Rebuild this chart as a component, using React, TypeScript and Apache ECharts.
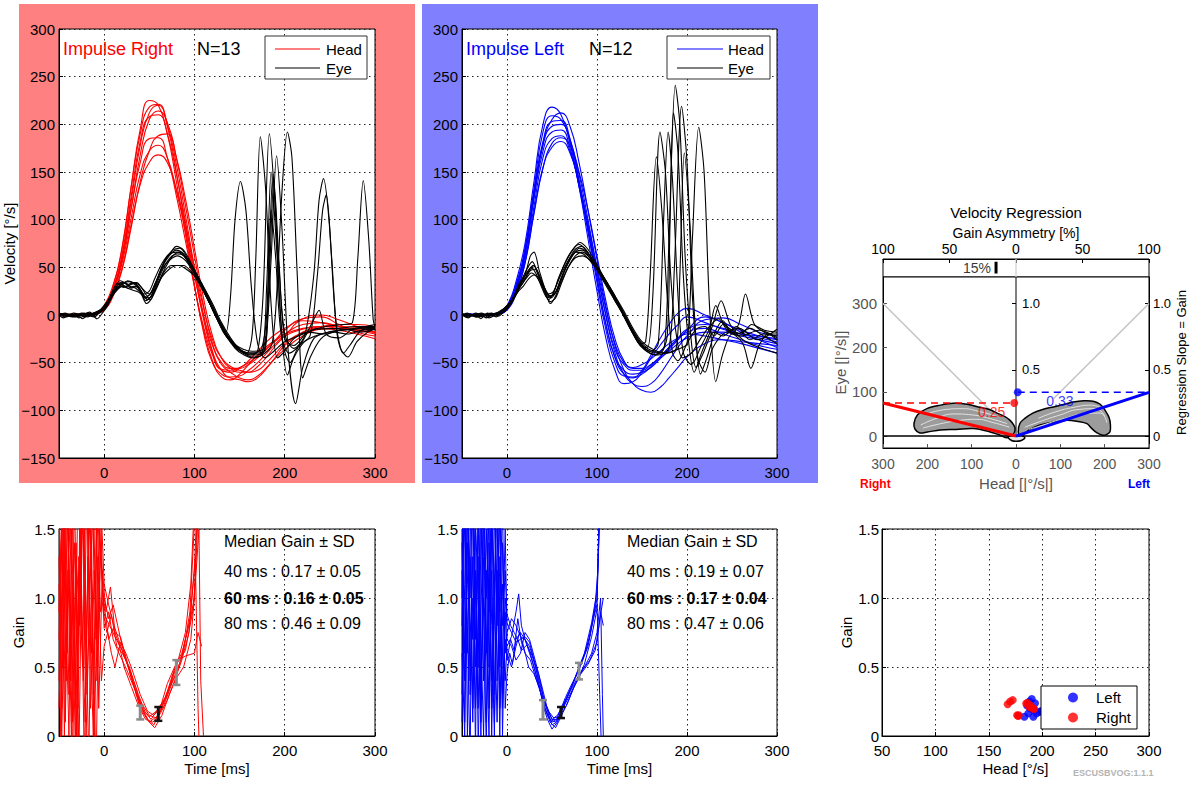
import React, { useEffect, useRef } from "react";
import * as echarts from "echarts";

const FONT = "'Liberation Sans', Arial, Helvetica, sans-serif";

// ---------- data ----------
const TIME_HEAD = [-50, -40, -30, -20, -10, 0, 10, 20, 30, 40, 50, 60, 70, 80, 90, 100, 110, 120, 130, 140, 150, 160, 170, 180, 190, 200, 220, 240, 260, 280, 300];

const HEAD_RIGHT = [
  [0, 0, 1, 0, 2, 10, 32, 70, 135, 195, 225, 220, 190, 140, 85, 30, -15, -48, -65, -68, -62, -52, -42, -33, -26, -20, -14, -12, -14, -15, -15],
  [0, 0, 0, 1, 2, 8, 28, 62, 120, 178, 212, 220, 200, 158, 105, 50, 0, -38, -58, -65, -64, -58, -50, -40, -30, -22, -15, -12, -12, -13, -14],
  [0, 1, 0, 0, 2, 7, 25, 58, 112, 168, 205, 214, 202, 165, 115, 62, 10, -30, -52, -60, -66, -68, -64, -55, -45, -36, -22, -15, -14, -16, -18],
  [0, 0, 1, 0, 2, 8, 26, 60, 112, 160, 185, 186, 165, 125, 78, 30, -12, -42, -57, -58, -55, -50, -43, -35, -27, -20, -10, -8, -12, -16, -20],
  [0, 0, 0, 1, 2, 6, 24, 55, 102, 148, 172, 178, 165, 130, 88, 42, 0, -32, -50, -56, -56, -52, -45, -36, -26, -16, -4, -2, -10, -18, -22],
  [0, 0, 0, 0, 1, 6, 22, 50, 95, 137, 160, 168, 160, 132, 94, 50, 8, -26, -45, -54, -58, -60, -58, -50, -40, -30, -18, -14, -16, -20, -25],
  [0, 0, 1, 0, 2, 9, 30, 72, 135, 190, 218, 221, 198, 150, 92, 32, -18, -50, -62, -66, -68, -70, -66, -56, -44, -32, -18, -12, -10, -10, -12],
  [0, 0, 0, 0, 1, 5, 20, 48, 92, 140, 172, 188, 190, 165, 122, 70, 18, -22, -45, -56, -60, -60, -54, -44, -32, -22, -4, 0, -5, -12, -18],
  [0, 0, 0, 1, 2, 7, 26, 64, 125, 182, 208, 210, 190, 148, 98, 44, -4, -40, -58, -60, -56, -48, -38, -28, -20, -14, -6, -8, -12, -16, -18],
];

const HEAD_LEFT = [
  [0, 1, 0, -1, 2, 10, 35, 75, 140, 200, 218, 210, 180, 135, 80, 25, -25, -58, -72, -70, -60, -45, -32, -20, -10, -2, -8, -15, -20, -22, -25],
  [0, 0, 1, 0, 1, 7, 28, 62, 125, 180, 205, 212, 198, 160, 110, 58, 8, -32, -58, -72, -79, -81, -76, -66, -55, -44, -30, -26, -28, -30, -32],
  [0, 0, 0, 1, 2, 8, 30, 68, 130, 182, 203, 204, 185, 142, 92, 40, -10, -45, -62, -66, -62, -54, -44, -34, -24, -15, -10, -14, -20, -24, -28],
  [0, 1, 0, 0, 2, 7, 28, 64, 122, 172, 192, 194, 175, 135, 88, 38, -10, -44, -58, -62, -60, -55, -46, -36, -26, -16, -2, -8, -18, -26, -34],
  [0, 0, 0, 0, 1, 6, 26, 58, 114, 165, 185, 188, 172, 136, 92, 45, 0, -36, -52, -58, -58, -52, -44, -34, -25, -18, -14, -20, -26, -32, -36],
  [0, 0, 1, 0, 1, 6, 24, 55, 108, 155, 176, 182, 170, 138, 96, 50, 6, -30, -50, -55, -52, -46, -38, -30, -24, -20, -22, -26, -30, -35, -40],
  [0, 0, 0, 0, 2, 8, 28, 64, 125, 178, 198, 200, 184, 148, 100, 48, -2, -40, -62, -72, -75, -72, -62, -48, -34, -22, -5, -3, -10, -18, -22],
  [0, 0, 0, 1, 2, 9, 32, 70, 132, 192, 209, 205, 182, 140, 88, 34, -16, -50, -64, -65, -58, -42, -25, -10, 2, 7, 0, -8, -16, -22, -26],
  [0, 0, 0, 0, 1, 5, 22, 54, 106, 154, 180, 186, 178, 150, 110, 62, 14, -25, -48, -56, -56, -52, -45, -38, -30, -24, -18, -18, -22, -26, -30],
];

const EYE_RIGHT = [
  [[-50, 0], [-42, -2], [-35, 1], [-28, -3], [-20, 0], [-12, 2], [-5, 3], [0, 8], [6, 16], [12, 26], [18, 34], [24, 30], [30, 32], [36, 34], [42, 28], [48, 20], [54, 26], [60, 40], [68, 58], [76, 68], [84, 70], [92, 60], [100, 45], [110, 28], [120, 8], [130, -10], [135, -18], [140, 20], [145, 100], [151, 140], [157, 110], [163, 30], [170, -30], [178, -45], [188, -38], [200, -28], [215, -22], [235, -15], [260, -14], [280, -12], [300, -12]],
  [[-50, 2], [-44, 0], [-36, -1], [-28, 1], [-22, -2], [-14, 1], [-6, 4], [0, 10], [6, 18], [12, 30], [18, 36], [24, 33], [30, 28], [36, 30], [42, 24], [48, 16], [54, 22], [60, 34], [68, 50], [76, 62], [84, 66], [92, 58], [100, 46], [110, 30], [120, 12], [130, -8], [140, -24], [150, -36], [158, -40], [164, -20], [168, 60], [173, 187], [179, 130], [185, 10], [192, -45], [200, -38], [210, -25], [225, -18], [245, -20], [265, -15], [285, -18], [300, -14]],
  [[-50, 0], [-40, 1], [-32, -2], [-24, 0], [-16, 3], [-8, -4], [-2, 2], [4, 10], [10, 22], [16, 30], [22, 34], [28, 35], [34, 32], [40, 26], [46, 15], [52, 20], [58, 35], [66, 55], [74, 66], [80, 72], [88, 68], [96, 55], [104, 40], [112, 22], [122, 2], [132, -18], [142, -30], [152, -38], [162, -42], [170, -38], [176, 20], [183, 190], [189, 120], [196, -10], [203, -63], [210, -45], [222, -28], [240, -20], [260, -16], [280, -14], [300, -13]],
  [[-50, 1], [-42, -1], [-34, 2], [-26, 0], [-18, -2], [-10, 3], [-3, 6], [3, 12], [9, 20], [15, 27], [21, 31], [27, 28], [33, 30], [39, 28], [45, 18], [51, 16], [57, 30], [65, 48], [73, 60], [81, 64], [89, 62], [97, 52], [105, 38], [115, 20], [125, 0], [135, -20], [145, -35], [155, -42], [165, -45], [178, -40], [186, -30], [191, 20], [197, 130], [203, 192], [208, 165], [214, 40], [220, -66], [228, -45], [240, -25], [255, -18], [270, -20], [285, -16], [300, -15]],
  [[-50, 0], [-43, 2], [-37, -1], [-30, 1], [-24, -4], [-18, 0], [-10, 2], [-4, 3], [2, 9], [8, 18], [14, 28], [20, 32], [26, 36], [32, 34], [38, 30], [44, 22], [50, 25], [56, 38], [64, 54], [72, 64], [80, 66], [88, 62], [96, 50], [104, 38], [114, 18], [124, -2], [134, -20], [144, -32], [154, -40], [164, -44], [175, -42], [180, -20], [185, 60], [191, 167], [197, 90], [204, -40], [212, -93], [220, -55], [232, -25], [248, -18], [265, -16], [285, -14], [300, -12]],
  [[-50, 1], [-41, 0], [-33, -2], [-25, 2], [-17, 0], [-9, 1], [-3, 5], [3, 12], [9, 24], [15, 33], [21, 29], [27, 31], [33, 34], [39, 26], [45, 18], [51, 22], [57, 34], [65, 50], [73, 58], [81, 62], [89, 58], [97, 48], [105, 34], [115, 16], [125, -4], [135, -22], [145, -34], [155, -40], [165, -42], [175, -40], [180, 30], [185, 150], [191, 70], [198, -30], [206, -50], [216, -32], [228, -22], [236, 40], [242, 110], [246, 126], [252, 60], [258, -20], [265, -40], [272, -32], [285, -16], [300, -14]],
  [[-50, 0], [-45, -3], [-38, 1], [-30, -1], [-22, 2], [-14, -1], [-7, 2], [-1, 6], [5, 14], [11, 24], [17, 30], [23, 34], [29, 30], [35, 28], [41, 22], [47, 12], [53, 18], [59, 30], [67, 46], [75, 52], [83, 52], [91, 48], [99, 42], [107, 30], [117, 12], [127, -6], [137, -22], [147, -34], [157, -40], [167, -40], [178, -38], [182, 40], [187, 148], [193, 60], [200, -20], [210, -35], [222, -22], [232, 40], [238, 120], [243, 143], [249, 100], [256, 0], [262, -35], [270, -44], [280, -28], [292, -18], [300, -15]],
  [[-50, 2], [-43, 0], [-35, -2], [-27, 1], [-19, 0], [-11, -2], [-4, 4], [2, 10], [8, 20], [14, 30], [20, 34], [26, 32], [32, 34], [38, 32], [44, 26], [50, 22], [56, 32], [64, 50], [72, 62], [80, 68], [88, 64], [96, 52], [104, 40], [114, 20], [124, 0], [134, -18], [144, -30], [154, -36], [164, -38], [176, -36], [182, 20], [188, 140], [194, 50], [200, -25], [210, -32], [225, -18], [245, -12], [265, -10], [275, -8], [281, 60], [287, 141], [293, 80], [298, -5], [300, -12]],
  [[-50, 0], [-42, 1], [-34, -1], [-26, 0], [-18, 2], [-10, 0], [-4, 3], [2, 8], [8, 18], [14, 26], [20, 30], [26, 28], [32, 26], [38, 24], [44, 20], [50, 18], [56, 26], [64, 40], [72, 48], [80, 52], [88, 52], [96, 46], [104, 36], [114, 18], [124, -2], [134, -18], [144, -30], [154, -38], [164, -40], [174, -36], [180, 0], [185, 110], [190, 60], [196, -20], [205, -40], [218, -30], [232, -5], [238, 5], [246, -20], [260, -24], [275, -15], [290, -12], [300, -10]],
];

const EYE_LEFT = [
  [[-50, 0], [-43, -3], [-36, 1], [-29, -4], [-22, 2], [-15, 0], [-8, 4], [-2, 8], [4, 14], [10, 24], [16, 36], [22, 48], [28, 56], [34, 44], [40, 30], [46, 16], [52, 24], [58, 40], [66, 58], [74, 70], [80, 74], [88, 68], [96, 56], [104, 42], [112, 30], [120, 15], [130, 0], [140, -18], [148, -30], [154, -28], [159, 40], [166, 166], [172, 110], [178, 20], [184, -40], [190, -48], [200, -30], [210, -15], [220, -12], [230, -22], [240, -10], [250, -16], [260, -20], [272, -10], [286, -16], [300, -18]],
  [[-50, 1], [-42, 0], [-34, -2], [-26, 1], [-18, -1], [-10, 2], [-4, 6], [2, 12], [8, 20], [14, 34], [20, 42], [26, 62], [30, 66], [36, 46], [42, 28], [48, 12], [54, 20], [60, 36], [68, 55], [76, 66], [84, 68], [92, 60], [100, 48], [108, 34], [118, 18], [128, 2], [138, -16], [148, -32], [156, -34], [162, 20], [170, 192], [176, 150], [182, 40], [188, -20], [195, -45], [205, -40], [215, -25], [225, -12], [235, -4], [245, -16], [260, -22], [280, -16], [300, -24]],
  [[-50, 0], [-44, 2], [-37, -1], [-30, 1], [-23, -3], [-16, 1], [-9, 3], [-3, 5], [3, 12], [9, 22], [15, 32], [21, 40], [27, 50], [33, 42], [39, 28], [45, 18], [51, 22], [57, 38], [65, 55], [73, 68], [81, 76], [89, 70], [97, 58], [105, 44], [113, 30], [123, 12], [133, -6], [143, -24], [153, -36], [165, -42], [175, -32], [180, 80], [187, 241], [192, 200], [198, 60], [204, -20], [210, -55], [218, -40], [230, -18], [240, -22], [255, -12], [270, -26], [285, -20], [300, -20]],
  [[-50, 0], [-41, 1], [-33, -2], [-25, 0], [-17, 2], [-9, -1], [-3, 4], [3, 10], [9, 20], [15, 30], [21, 38], [27, 44], [33, 40], [39, 30], [45, 22], [51, 24], [57, 36], [65, 52], [73, 64], [81, 70], [89, 66], [97, 54], [105, 42], [115, 26], [125, 8], [135, -10], [145, -28], [155, -38], [168, -42], [180, -35], [186, 50], [194, 219], [200, 160], [206, 20], [212, -45], [220, -60], [228, -36], [240, -20], [258, -14], [278, -26], [300, -15]],
  [[-50, 2], [-43, -1], [-35, 1], [-28, -2], [-21, 1], [-13, -1], [-6, 3], [0, 8], [6, 16], [12, 26], [18, 34], [24, 44], [30, 52], [36, 40], [42, 24], [48, 14], [54, 18], [60, 32], [68, 50], [76, 62], [84, 66], [92, 60], [100, 50], [110, 36], [120, 20], [130, 4], [140, -14], [150, -28], [162, -36], [175, -40], [190, -36], [200, -30], [206, 80], [213, 197], [219, 150], [225, 10], [232, -70], [240, -40], [250, -20], [262, -30], [271, -56], [280, -32], [290, -20], [300, -26]],
  [[-50, 0], [-42, -2], [-35, 2], [-27, -1], [-19, 1], [-12, -2], [-5, 3], [1, 9], [7, 18], [13, 28], [19, 40], [25, 46], [31, 48], [37, 36], [43, 22], [49, 18], [55, 26], [61, 40], [69, 56], [77, 66], [85, 64], [93, 56], [101, 46], [109, 34], [119, 18], [129, 0], [139, -18], [149, -32], [160, -38], [168, -30], [174, 100], [179, 192], [184, 140], [190, 20], [196, -40], [205, -52], [215, -34], [225, -14], [232, 10], [240, -8], [255, -20], [270, -14], [285, -22], [300, -30]],
  [[-50, 1], [-44, -1], [-36, 0], [-28, 2], [-20, -1], [-12, 1], [-6, 2], [0, 6], [6, 14], [12, 24], [18, 30], [24, 38], [30, 42], [36, 38], [42, 28], [48, 20], [54, 24], [60, 34], [68, 50], [76, 60], [84, 62], [92, 58], [100, 50], [110, 36], [120, 20], [130, 2], [140, -16], [150, -30], [162, -38], [178, -40], [188, -35], [192, 40], [197, 170], [203, 100], [209, -10], [215, -62], [222, -45], [232, -16], [240, -6], [250, -20], [258, -8], [265, 22], [275, -10], [290, -20], [300, -22]],
  [[-50, 0], [-43, 1], [-35, -2], [-27, 1], [-20, -3], [-13, 0], [-7, 2], [-1, 7], [5, 14], [11, 24], [17, 36], [23, 46], [29, 52], [35, 44], [41, 30], [47, 20], [53, 22], [59, 36], [67, 54], [75, 68], [83, 72], [91, 64], [99, 52], [107, 40], [117, 24], [127, 6], [137, -12], [147, -28], [158, -38], [170, -40], [178, -22], [181, 90], [185, 212], [190, 170], [196, 40], [202, -30], [208, -60], [216, -40], [228, -12], [238, 15], [248, -10], [262, -26], [280, -34], [300, -40]],
];

const GAIN_RIGHT = [
  [[-50, 1.8], [-47, 0.2], [-44, 1.6], [-41, 0.6], [-38, 2.0], [-35, 0.1], [-31, 1.4], [-28, -0.2], [-24, 1.7], [-20, 0.5], [-16, 1.9], [-12, 0.3], [-8, 1.6], [-4, 0.9], [0, 1.0], [5, 0.85], [10, 0.95], [15, 0.8], [20, 0.65], [30, 0.42], [40, 0.22], [50, 0.1], [60, 0.15], [70, 0.3], [80, 0.5], [90, 0.75], [96, 1.1], [100, 1.7]],
  [[-50, 0.4], [-46, 1.7], [-43, 0.1], [-40, 1.2], [-36, -0.1], [-33, 1.8], [-30, 0.7], [-26, 1.5], [-22, -0.2], [-18, 1.3], [-14, 0.6], [-10, 2.0], [-6, 0.2], [-2, 1.2], [2, 0.9], [7, 1.08], [12, 0.75], [18, 0.72], [25, 0.55], [32, 0.38], [40, 0.2], [48, 0.12], [55, 0.08], [62, 0.18], [72, 0.35], [80, 0.45], [88, 0.62], [95, 0.9], [102, 1.8]],
  [[-50, 1.1], [-48, -0.1], [-45, 1.9], [-42, 0.8], [-39, 0.0], [-36, 1.5], [-32, 0.3], [-29, 1.9], [-25, 0.9], [-21, 0.1], [-17, 1.6], [-13, 1.0], [-9, -0.3], [-5, 1.5], [0, 0.78], [5, 0.9], [10, 0.7], [15, 0.62], [20, 0.55], [25, 0.48], [30, 0.4], [40, 0.25], [50, 0.15], [58, 0.13], [66, 0.22], [75, 0.38], [85, 0.55], [95, 0.85], [101, 1.3], [104, 0.2], [106, -0.2]],
  [[-50, 0.7], [-47, 1.5], [-44, 0.0], [-40, 1.8], [-37, 0.4], [-34, 1.1], [-30, -0.1], [-27, 1.6], [-23, 0.4], [-19, 1.8], [-15, 0.2], [-11, 1.2], [-7, 0.5], [-3, 1.6], [0, 1.1], [5, 0.95], [10, 0.82], [16, 0.7], [22, 0.58], [30, 0.45], [38, 0.3], [45, 0.18], [52, 0.12], [60, 0.2], [68, 0.28], [76, 0.45], [82, 0.55], [90, 0.58], [100, 0.6], [104, 0.75], [108, 0.65]],
  [[-50, 1.6], [-46, 0.5], [-42, 1.9], [-38, 1.0], [-35, -0.2], [-31, 1.3], [-27, 0.8], [-23, 2.0], [-19, 0.3], [-15, 1.5], [-11, -0.1], [-7, 1.3], [-3, 0.4], [0, 0.65], [4, 0.75], [8, 0.6], [12, 0.5], [18, 0.68], [24, 0.6], [30, 0.5], [40, 0.3], [48, 0.18], [55, 0.15], [62, 0.2], [70, 0.38], [78, 0.5], [86, 0.6], [94, 0.8], [100, 1.0], [103, 1.6]],
  [[-50, 0.2], [-46, 1.3], [-43, 1.8], [-39, 0.3], [-35, 1.6], [-31, 0.0], [-27, 1.2], [-24, 1.7], [-20, 0.0], [-16, 1.0], [-12, 1.8], [-8, 0.4], [-4, 1.4], [0, 0.88], [6, 0.8], [12, 0.72], [20, 0.62], [28, 0.48], [36, 0.3], [44, 0.18], [50, 0.14], [58, 0.18], [65, 0.24], [72, 0.35], [80, 0.52], [90, 0.62], [98, 0.9], [102, 1.2], [105, 1.5], [107, 0.4], [110, 0.0]],
  [[-50, 1.3], [-47, 0.0], [-44, 0.9], [-41, 1.9], [-37, 0.6], [-33, 1.4], [-29, 0.2], [-25, 1.8], [-21, 1.1], [-17, -0.2], [-13, 1.7], [-9, 0.7], [-5, 1.9], [-1, 0.9], [3, 0.75], [8, 0.88], [14, 0.65], [20, 0.6], [28, 0.5], [35, 0.35], [42, 0.2], [50, 0.1], [56, 0.06], [64, 0.15], [72, 0.3], [80, 0.42], [88, 0.5], [96, 0.7], [100, 1.0], [104, 1.6]],
  [[-50, 0.9], [-46, 1.9], [-42, 0.4], [-39, 1.5], [-35, 1.1], [-32, -0.1], [-28, 1.3], [-24, 0.5], [-20, 1.9], [-16, 0.9], [-12, 0.0], [-8, 1.8], [-4, 1.3], [0, 0.95], [5, 0.7], [10, 0.78], [16, 0.68], [22, 0.5], [30, 0.36], [38, 0.22], [46, 0.12], [54, 0.1], [62, 0.16], [70, 0.26], [78, 0.4], [86, 0.55], [94, 0.75], [100, 1.2], [104, 1.9]],
];

const GAIN_LEFT = [
  [[-50, 1.2], [-47, 0.1], [-44, 1.7], [-41, 0.4], [-38, 1.3], [-35, -0.1], [-32, 1.8], [-29, 0.7], [-26, 0.0], [-23, 1.5], [-20, 0.9], [-17, 1.9], [-14, 0.3], [-11, 1.2], [-8, 0.0], [-5, 1.4], [-2, 0.6], [0, 0.75], [5, 0.85], [10, 0.8], [15, 0.72], [20, 0.7], [25, 0.62], [30, 0.5], [35, 0.38], [40, 0.25], [45, 0.15], [50, 0.1], [55, 0.12], [60, 0.2], [65, 0.28], [70, 0.35], [80, 0.48], [90, 0.65], [96, 0.85], [100, 1.0], [103, 1.6]],
  [[-50, 0.3], [-47, 1.6], [-44, 0.8], [-41, -0.2], [-38, 1.9], [-35, 1.0], [-32, 0.2], [-29, 1.4], [-26, 1.8], [-23, 0.1], [-20, 1.1], [-17, 0.4], [-14, 1.7], [-11, 0.8], [-8, 1.9], [-5, 0.3], [-2, 0.9], [0, 0.55], [4, 0.7], [8, 0.62], [12, 0.85], [16, 0.68], [20, 0.6], [26, 0.55], [32, 0.42], [38, 0.3], [44, 0.2], [50, 0.12], [56, 0.15], [62, 0.22], [70, 0.32], [78, 0.42], [86, 0.5], [94, 0.6], [100, 0.75], [104, 1.0], [106, 0.3], [107, 0.0]],
  [[-50, 1.7], [-47, 0.6], [-44, 1.1], [-41, 1.9], [-38, 0.2], [-35, 1.2], [-32, 0.5], [-29, 1.9], [-26, 0.9], [-23, -0.1], [-20, 1.4], [-17, 0.2], [-14, 1.0], [-11, 1.8], [-8, 0.5], [-5, 1.1], [-2, 0.4], [0, 0.65], [5, 0.72], [10, 0.9], [13, 1.03], [16, 0.8], [20, 0.7], [25, 0.65], [30, 0.55], [35, 0.45], [40, 0.3], [45, 0.18], [50, 0.08], [55, 0.1], [60, 0.18], [68, 0.3], [76, 0.42], [84, 0.55], [92, 0.72], [98, 0.95], [101, 1.2], [104, 1.9]],
  [[-50, 0.8], [-47, 1.9], [-44, 0.0], [-41, 1.3], [-38, 0.7], [-35, 1.7], [-32, -0.1], [-29, 0.9], [-26, 1.6], [-23, 0.6], [-20, 1.9], [-17, 0.8], [-14, 0.0], [-11, 1.5], [-8, 0.9], [-5, 1.7], [-2, 0.2], [0, 0.45], [3, 0.6], [6, 0.52], [10, 0.7], [15, 0.75], [20, 0.7], [25, 0.6], [30, 0.5], [36, 0.35], [42, 0.2], [48, 0.1], [54, 0.06], [60, 0.14], [68, 0.25], [76, 0.38], [84, 0.48], [92, 0.55], [100, 0.68], [104, 0.9], [107, 0.8]],
  [[-50, 1.4], [-47, 0.4], [-44, 1.8], [-41, 0.9], [-38, 0.1], [-35, 1.5], [-32, 1.1], [-29, 0.0], [-26, 1.3], [-23, 1.9], [-20, 0.5], [-17, 1.2], [-14, 0.1], [-11, 0.9], [-8, 1.6], [-5, 0.0], [-2, 1.0], [0, 0.82], [5, 0.75], [10, 0.68], [15, 0.7], [20, 0.72], [25, 0.68], [30, 0.55], [35, 0.4], [40, 0.22], [45, 0.12], [50, 0.05], [56, 0.1], [62, 0.2], [70, 0.33], [78, 0.46], [86, 0.6], [94, 0.82], [100, 1.05], [102, 1.5]],
  [[-50, 0.1], [-47, 1.1], [-44, 1.9], [-41, 0.3], [-38, 1.0], [-35, 0.5], [-32, 1.6], [-29, 0.3], [-26, 1.0], [-23, 0.7], [-20, 0.0], [-17, 1.6], [-14, 0.9], [-11, 0.1], [-8, 1.3], [-5, 0.8], [-2, 1.2], [0, 0.88], [4, 0.8], [8, 0.75], [12, 0.7], [16, 0.62], [22, 0.66], [28, 0.58], [34, 0.45], [40, 0.28], [46, 0.18], [52, 0.13], [58, 0.14], [64, 0.25], [72, 0.36], [80, 0.5], [88, 0.62], [96, 0.85], [100, 0.95], [103, 0.3], [105, -0.1]],
  [[-50, 1.0], [-47, 1.8], [-44, 0.6], [-41, 1.5], [-38, 1.8], [-35, 0.2], [-32, 0.8], [-29, 1.7], [-26, 0.4], [-23, 1.2], [-20, 0.2], [-17, 1.5], [-14, 1.9], [-11, 0.4], [-8, 1.0], [-5, 0.2], [-2, 0.7], [0, 0.6], [5, 0.5], [10, 0.65], [14, 0.75], [18, 0.66], [24, 0.5], [30, 0.45], [36, 0.35], [42, 0.2], [48, 0.12], [54, 0.1], [60, 0.16], [66, 0.22], [74, 0.35], [82, 0.45], [90, 0.52], [98, 0.62], [104, 0.88], [107, 1.0]],
  [[-50, 0.6], [-47, 0.0], [-44, 1.4], [-41, 1.0], [-38, 1.9], [-35, 0.7], [-32, 1.3], [-29, 0.1], [-26, 1.9], [-23, 1.0], [-20, 1.6], [-17, 0.0], [-14, 1.1], [-11, 1.9], [-8, 0.2], [-5, 0.6], [-2, 1.5], [0, 0.7], [5, 0.65], [10, 0.55], [15, 0.6], [20, 0.75], [25, 0.7], [30, 0.58], [38, 0.38], [44, 0.22], [50, 0.12], [56, 0.12], [62, 0.2], [70, 0.3], [78, 0.4], [86, 0.52], [94, 0.72], [100, 0.92], [103, 1.8]],
];

// [time ms, median gain, SD]
const STATS_RIGHT = [[40, 0.17, 0.05], [60, 0.16, 0.05], [80, 0.46, 0.09]];
const STATS_LEFT = [[40, 0.19, 0.07], [60, 0.17, 0.04], [80, 0.47, 0.06]];
const N_RIGHT = 13;
const N_LEFT = 12;

// [head peak velocity deg/s, gain]
const SCATTER_LEFT = [[190.2, 0.268], [193.3, 0.237], [183.3, 0.14], [191.7, 0.14], [194.8, 0.164], [197.5, 0.175], [187, 0.164], [189, 0.2], [186, 0.22], [192, 0.19], [199, 0.18], [188, 0.25]];
const SCATTER_RIGHT = [[167.7, 0.23], [172.4, 0.26], [170, 0.25], [177.6, 0.145], [186.1, 0.24], [189.2, 0.22], [191.7, 0.2], [192.6, 0.195], [178, 0.15], [188, 0.21], [190, 0.205], [185, 0.235], [176.5, 0.15]];

const REG_GAIN_RIGHT = 0.25;
const REG_GAIN_LEFT = 0.33;
const GAIN_ASYMMETRY = 15; // % toward right
const HEAD_MAX = 300;

// velocity-regression clouds (head signed: right impulses negative)
const CLOUD_RIGHT = [[-230, 29], [-222, 48], [-201, 62], [-170, 70], [-142, 74], [-110, 72], [-81, 65], [-60, 60], [-43, 52], [-25, 44], [-14, 36], [-5, 25], [-2, 16], [-6, 4], [-20, -4], [-36, 2], [-60, 10], [-97, 17], [-135, 15], [-171, 14], [-200, 9], [-217, 7], [-228, 16]];
const CLOUD_LEFT = [[5, 10], [9, 29], [20, 40], [38, 52], [60, 60], [84, 66], [110, 72], [129, 77], [152, 80], [174, 79], [190, 72], [200, 60], [210, 42], [213, 25], [212, 10], [205, 4], [196, 2], [183, 7], [170, 18], [160, 28], [140, 33], [115, 36], [85, 32], [54, 25], [30, 14], [18, 5], [10, 0]];
const CLOUD_CENTER = [[-18, -2], [-10, -10], [0, -12], [12, -10], [20, -4], [12, 2], [0, 0], [-10, 2]];
const CLOUD_TRACES_RIGHT = [
  [[-215, 25], [-180, 40], [-140, 50], [-100, 48], [-60, 40], [-20, 28]],
  [[-210, 18], [-170, 28], [-130, 35], [-90, 38], [-50, 30], [-15, 20]],
  [[-200, 50], [-160, 60], [-120, 62], [-80, 55], [-45, 45]],
];
const CLOUD_TRACES_LEFT = [
  [[20, 20], [60, 35], [100, 48], [140, 60], [180, 62], [200, 45]],
  [[30, 15], [70, 28], [110, 40], [150, 50], [190, 52], [205, 30]],
  [[50, 40], [90, 55], [130, 65], [170, 70], [195, 62]],
];

const TIME_TICKS = [0, 100, 200, 300];
const HEAD_TICKS = [-300, -200, -100, 0, 100, 200, 300];
const EYE_TICKS = [0, 100, 200, 300];
const SLOPE_TICKS = [0, 0.5, 1];
const SLOPE_TICKS_CENTER = [0.5, 1];

// ---------- helpers ----------
const neg = (v: number) => (v < 0 ? "\u2212" + Math.abs(v) : String(v));
const absFmt = (v: number) => String(Math.abs(v));
const oneDec = (v: number) => (v === 0 ? "0" : v.toFixed(1));
const DOTTED = { show: true, lineStyle: { type: [1.5, 3.5], color: "#222", width: 1 } };

function axis(o: any) {
  const base: any = {
    type: "value",
    axisLine: { show: true, onZero: false, lineStyle: { color: "#000", width: 1 } },
    axisTick: { show: true, inside: true, length: 4, lineStyle: { color: "#000" } },
    axisLabel: { color: "#000", fontSize: 15, fontFamily: FONT, margin: 5 },
    splitLine: { show: false },
    nameTextStyle: { color: "#000", fontSize: 15, fontFamily: FONT },
    nameLocation: "middle",
  };
  const r: any = { ...base, ...o };
  ["axisLine", "axisTick", "axisLabel", "splitLine", "nameTextStyle"].forEach((k) => {
    if (o[k]) r[k] = { ...base[k], ...o[k] };
  });
  return r;
}

function line(data: any, xi: number, yi: number, color: string, width: number, smooth: any, z = 2, type: any = "solid") {
  return {
    type: "line", xAxisIndex: xi, yAxisIndex: yi, data, symbol: "none", showSymbol: false, smooth,
    silent: true, z, clip: true, lineStyle: { color, width, type },
  };
}

function cloud(pts: number[][], fill: string, z: number) {
  return {
    type: "custom", xAxisIndex: 3, yAxisIndex: 3, data: pts, silent: true, z,
    encode: { x: 0, y: 1 },
    renderItem: (params: any, api: any) => {
      if (params.dataIndex !== 0) return null;
      const p = pts.map((q) => api.coord(q));
      return { type: "polygon", shape: { points: p, smooth: 0.35 }, style: { fill, stroke: "#000", lineWidth: 1.5 } };
    },
  };
}

function errBars(stats: number[][], xi: number, yi: number) {
  return {
    type: "custom", xAxisIndex: xi, yAxisIndex: yi, silent: true, z: 6,
    data: stats.map(([t, m, s]) => [t, m - s, m + s]),
    encode: { x: 0, y: [1, 2] },
    renderItem: (params: any, api: any) => {
      const t = api.value(0), lo = api.value(1), hi = api.value(2);
      const a = api.coord([t, lo]), b = api.coord([t, hi]);
      const c = params.dataIndex === 1 ? "#111" : "#8a8a8a";
      const w = 4;
      return {
        type: "group",
        children: [
          { type: "line", shape: { x1: a[0], y1: a[1], x2: b[0], y2: b[1] }, style: { stroke: c, lineWidth: 3 } },
          { type: "line", shape: { x1: a[0] - w, y1: a[1], x2: a[0] + w, y2: a[1] }, style: { stroke: c, lineWidth: 2.5 } },
          { type: "line", shape: { x1: b[0] - w, y1: b[1], x2: b[0] + w, y2: b[1] }, style: { stroke: c, lineWidth: 2.5 } },
        ],
      };
    },
  };
}

function txt(text: string, x: number, y: number, o: any = {}) {
  return {
    type: "text", x, y, z: o.z ?? 50, silent: true,
    style: {
      text, fill: o.fill || "#000", fontSize: o.size || 15, fontFamily: FONT,
      fontWeight: o.weight || "normal", align: o.align || "left", verticalAlign: "middle",
    },
  };
}

function gLine(x1: number, y1: number, x2: number, y2: number, color: string) {
  return { type: "line", z: 45, silent: true, shape: { x1, y1, x2, y2 }, style: { stroke: color, lineWidth: 1.2 } };
}

function buildOption() {
  const grids = [
    { left: 59, top: 29, width: 316, height: 429 },
    { left: 462, top: 29, width: 315, height: 429 },
    { left: 883, top: 259, width: 266, height: 18 },
    { left: 883, top: 277, width: 266, height: 171 },
    { left: 59, top: 529, width: 316, height: 207 },
    { left: 462, top: 529, width: 315, height: 207 },
    { left: 882, top: 529, width: 267, height: 207 },
  ].map((g) => ({ ...g, show: true, backgroundColor: "#fff", borderColor: "#000", borderWidth: 1, containLabel: false, outerBoundsMode: "none" }));

  const timeX = (gi: number, name?: string) =>
    axis({
      gridIndex: gi, min: -50, max: 300,
      axisTick: { customValues: TIME_TICKS },
      axisLabel: { customValues: TIME_TICKS, margin: 7 },
      splitLine: DOTTED,
      name, nameGap: 25,
    });

  const xAxis = [
    timeX(0),
    timeX(1),
    axis({
      gridIndex: 2, position: "top", min: -100, max: 100, interval: 50,
      axisLabel: { formatter: absFmt, fontSize: 14, margin: 3 },
      axisTick: { show: true },
      name: "Gain Asymmetry [%]", nameGap: 19, nameTextStyle: { fontSize: 14 },
    }),
    axis({
      gridIndex: 3, min: -300, max: 300, interval: 100,
      axisLabel: { formatter: absFmt, fontSize: 14, margin: 9, color: "#555" },
      axisTick: { lineStyle: { color: "#555" } },
      name: "Head [|°/s|]", nameGap: 28, nameTextStyle: { color: "#555", fontSize: 15 },
    }),
    timeX(4, "Time [ms]"),
    timeX(5, "Time [ms]"),
    axis({
      gridIndex: 6, min: 50, max: 300, interval: 50,
      axisLabel: { margin: 7 },
      splitLine: DOTTED,
      name: "Head [°/s]", nameGap: 25,
    }),
  ];

  const yAxis = [
    axis({ gridIndex: 0, min: -150, max: 300, interval: 50, axisLabel: { formatter: neg, margin: 4 }, splitLine: DOTTED, name: "Velocity [°/s]", nameGap: 40 }),
    axis({ gridIndex: 1, min: -150, max: 300, interval: 50, axisLabel: { formatter: neg, margin: 4 }, splitLine: DOTTED }),
    axis({ gridIndex: 2, min: 0, max: 1, show: false }),
    axis({
      gridIndex: 3, min: -27, max: 360,
      axisTick: { customValues: EYE_TICKS, lineStyle: { color: "#555" } },
      axisLabel: { customValues: EYE_TICKS, color: "#555", margin: 6 },
      name: "Eye [|°/s|]", nameGap: 30, nameTextStyle: { color: "#555" },
    }),
    axis({
      gridIndex: 3, position: "right", min: -0.09, max: 1.2,
      axisTick: { customValues: SLOPE_TICKS },
      axisLabel: { customValues: SLOPE_TICKS, formatter: oneDec, fontSize: 13, margin: 4 },
      name: "Regression Slope = Gain", nameGap: 26, nameRotate: 90, nameTextStyle: { fontSize: 13 },
    }),
    axis({
      gridIndex: 3, position: "left", offset: -133, min: -0.09, max: 1.2,
      axisLine: { show: false },
      axisTick: { customValues: SLOPE_TICKS_CENTER, inside: false, length: 4 },
      axisLabel: { customValues: SLOPE_TICKS_CENTER, formatter: oneDec, fontSize: 13, inside: true, margin: 6 },
    }),
    axis({ gridIndex: 4, min: 0, max: 1.5, interval: 0.5, axisLabel: { formatter: oneDec, margin: 4 }, splitLine: DOTTED, name: "Gain", nameGap: 33 }),
    axis({ gridIndex: 5, min: 0, max: 1.5, interval: 0.5, axisLabel: { formatter: oneDec, margin: 4 }, splitLine: DOTTED }),
    axis({ gridIndex: 6, min: 0, max: 1.5, interval: 0.5, axisLabel: { formatter: oneDec, margin: 3 }, splitLine: DOTTED, name: "Gain", nameGap: 25 }),
  ];

  const series: any[] = [];
  // top panels
  HEAD_RIGHT.forEach((tr) => series.push(line(TIME_HEAD.map((t, i) => [t, tr[i]]), 0, 0, "#ff0000", 1.1, 0.5, 2)));
  EYE_RIGHT.forEach((tr) => series.push(line(tr, 0, 0, "#000", 1.1, 0.3, 3)));
  HEAD_LEFT.forEach((tr) => series.push(line(TIME_HEAD.map((t, i) => [t, tr[i]]), 1, 1, "#0000ff", 1.1, 0.5, 2)));
  EYE_LEFT.forEach((tr) => series.push(line(tr, 1, 1, "#000", 1.1, 0.3, 3)));

  // gain panels
  GAIN_RIGHT.forEach((tr) => series.push(line(tr, 4, 6, "#ff0000", 1, false, 2)));
  GAIN_LEFT.forEach((tr) => series.push(line(tr, 5, 7, "#0000ff", 1, false, 2)));
  series.push(errBars(STATS_RIGHT, 4, 6));
  series.push(errBars(STATS_LEFT, 5, 7));

  // velocity regression
  series.push(line([[-HEAD_MAX, HEAD_MAX], [-55, 55]], 3, 3, "#c4c4c4", 1.5, false, 2));
  series.push(line([[85, 85], [HEAD_MAX, HEAD_MAX]], 3, 3, "#c4c4c4", 1.5, false, 2));
  series.push(cloud(CLOUD_RIGHT, "#9c9c9c", 3));
  series.push(cloud(CLOUD_LEFT, "#9c9c9c", 3));
  series.push(cloud(CLOUD_CENTER, "#e6e6e6", 3));
  CLOUD_TRACES_RIGHT.forEach((tr) => series.push(line(tr, 3, 3, "#e4e4e4", 1, 0.5, 4)));
  CLOUD_TRACES_LEFT.forEach((tr) => series.push(line(tr, 3, 3, "#e4e4e4", 1, 0.5, 4)));
  series.push(line([[-HEAD_MAX, 0], [HEAD_MAX, 0]], 3, 3, "#000", 1.5, false, 5));
  series.push(line([[0, 0], [0, 360]], 3, 3, "#000", 1, false, 5));
  const yR = REG_GAIN_RIGHT * HEAD_MAX;
  const yL = REG_GAIN_LEFT * HEAD_MAX;
  series.push(line([[-HEAD_MAX, yR], [0, 0]], 3, 3, "#ff0000", 3, false, 6));
  series.push(line([[0, 0], [HEAD_MAX, yL]], 3, 3, "#0000ff", 3, false, 6));
  series.push(line([[-HEAD_MAX, yR], [-4, yR]], 3, 3, "#ff0000", 1.5, false, 6, [7, 5]));
  series.push(line([[4, yL], [HEAD_MAX, yL]], 3, 3, "#0000ff", 1.5, false, 6, [7, 5]));
  series.push({
    type: "scatter", xAxisIndex: 3, yAxisIndex: 3, silent: true, z: 7, symbolSize: 8,
    data: [
      { value: [-4, yR], itemStyle: { color: "#ff0000" } },
      { value: [4, yL], itemStyle: { color: "#0000ff" } },
    ],
  });
  series.push({
    type: "scatter", xAxisIndex: 3, yAxisIndex: 3, silent: true, z: 8, symbolSize: 0,
    data: [
      { value: [-55, 54], label: { show: true, formatter: REG_GAIN_RIGHT.toFixed(2), color: "#ff0000", fontSize: 14, fontFamily: FONT } },
      { value: [99, 79], label: { show: true, formatter: REG_GAIN_LEFT.toFixed(2), color: "#0000ff", fontSize: 14, fontFamily: FONT } },
    ],
    label: { show: true, position: "inside" },
  });
  // gain asymmetry strip
  series.push(line([[0, 0], [0, 1]], 2, 2, "#cfcfcf", 1.2, false, 3));
  series.push(line([[-GAIN_ASYMMETRY, 0.2], [-GAIN_ASYMMETRY, 0.85]], 2, 2, "#000", 3, false, 4));
  series.push({
    type: "scatter", xAxisIndex: 2, yAxisIndex: 2, silent: true, z: 5, symbolSize: 0,
    data: [[-GAIN_ASYMMETRY, 0.5]],
    label: { show: true, position: "left", distance: 5, formatter: `${GAIN_ASYMMETRY}%`, color: "#000", fontSize: 14, fontFamily: FONT },
  });

  // gain vs head scatter
  series.push({ type: "scatter", name: "Left", xAxisIndex: 6, yAxisIndex: 8, data: SCATTER_LEFT, symbolSize: 8, itemStyle: { color: "#0000ff" }, silent: true, z: 3 });
  series.push({ type: "scatter", name: "Right", xAxisIndex: 6, yAxisIndex: 8, data: SCATTER_RIGHT, symbolSize: 8, itemStyle: { color: "#ff0000" }, silent: true, z: 4 });

  const statText = (stats: number[][], x: number) =>
    stats.map(([t, m, s], i) =>
      txt(`${t} ms : ${m.toFixed(2)} \u00b1 ${s.toFixed(2)}`, x, [571, 598, 623][i], { size: 16, weight: i === 1 ? "bold" : "normal" })
    );

  const graphic: any[] = [
    { type: "rect", z: -100, silent: true, shape: { x: 19, y: 4, width: 396, height: 479 }, style: { fill: "#ff8080" } },
    { type: "rect", z: -100, silent: true, shape: { x: 422, y: 4, width: 396, height: 479 }, style: { fill: "#8080ff" } },
    txt("Impulse Right", 63, 49, { fill: "#ff0000", size: 18 }),
    txt(`N=${N_RIGHT}`, 197, 49, { size: 18 }),
    { type: "rect", z: 40, silent: true, shape: { x: 265, y: 36, width: 102, height: 43 }, style: { fill: "#fff", stroke: "#333", lineWidth: 1 } },
    gLine(275, 49, 320, 49, "#ff0000"),
    gLine(275, 68, 320, 68, "#000"),
    txt("Head", 326, 49),
    txt("Eye", 326, 68),
    txt("Impulse Left", 466, 49, { fill: "#0000ff", size: 18 }),
    txt(`N=${N_LEFT}`, 589, 49, { size: 18 }),
    { type: "rect", z: 40, silent: true, shape: { x: 667, y: 36, width: 103, height: 43 }, style: { fill: "#fff", stroke: "#333", lineWidth: 1 } },
    gLine(677, 49, 723, 49, "#0000ff"),
    gLine(677, 68, 723, 68, "#000"),
    txt("Head", 728, 49),
    txt("Eye", 728, 68),
    txt("Median Gain \u00b1 SD", 224, 541, { size: 16 }),
    ...statText(STATS_RIGHT, 224),
    txt("Median Gain \u00b1 SD", 627, 541, { size: 16 }),
    ...statText(STATS_LEFT, 627),
    txt("Velocity Regression", 1016, 212, { align: "center", size: 15 }),
    txt("Right", 860, 484, { fill: "#ff0000", size: 12, weight: "bold" }),
    txt("Left", 1128, 484, { fill: "#0000ff", size: 12, weight: "bold" }),
    txt("ESCUSBVOG:1.1.1", 1073, 773, { fill: "#b4b4b4", size: 9, weight: "bold" }),
  ];

  return {
    animation: false,
    textStyle: { fontFamily: FONT },
    grid: grids,
    xAxis,
    yAxis,
    series,
    graphic,
    legend: {
      show: true, data: ["Left", "Right"], orient: "vertical", left: 1041, top: 686,
      itemWidth: 10, itemHeight: 10, itemGap: 5, padding: [4, 6, 4, 27], icon: "circle",
      backgroundColor: "#fff", borderColor: "#000", borderWidth: 1, z: 20, selectedMode: false,
      textStyle: { fontSize: 15, color: "#000", fontFamily: FONT, padding: [0, 0, 0, 13] },
    },
  };
}

export default function App() {
  const ref = useRef<HTMLDivElement>(null);
  useEffect(() => {
    document.body.style.margin = "0";
    const chart = echarts.init(ref.current as HTMLDivElement, null, { renderer: "svg" });
    chart.setOption(buildOption() as any);
    return () => chart.dispose();
  }, []);
  return <div ref={ref} style={{ width: 1192, height: 787 }} />;
}
